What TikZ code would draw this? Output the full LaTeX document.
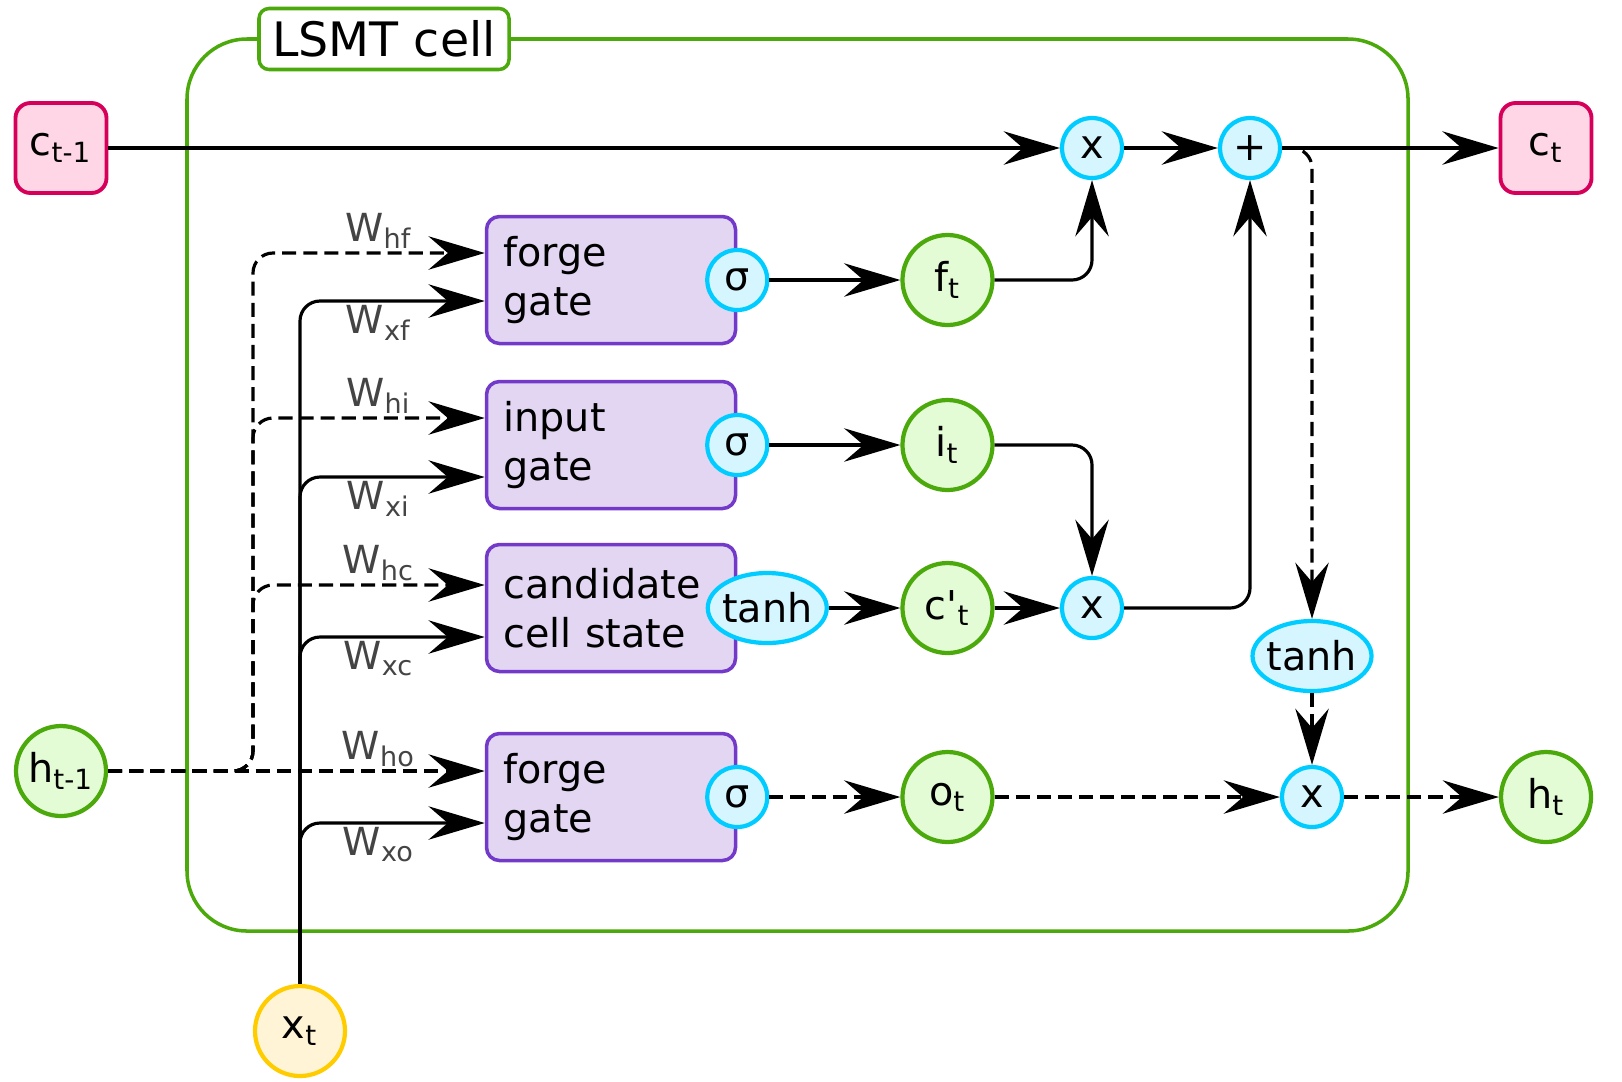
\documentclass[tikz,border=0pt]{standalone}
\usepackage{fontspec}
\setmainfont{DejaVu Sans}
\usepackage{xcolor}
\usetikzlibrary{positioning,calc,arrows.meta,shapes.geometric}

\definecolor{cellgreen}{HTML}{4BA90B}
\definecolor{statefill}{HTML}{E3FCD5}
\definecolor{memline}{HTML}{D6005A}
\definecolor{memfill}{HTML}{FFD6E5}
\definecolor{gateline}{HTML}{7339C9}
\definecolor{gatefill}{HTML}{E3D6F2}
\definecolor{opline}{HTML}{00CCFF}
\definecolor{opfill}{HTML}{D5F5FF}
\definecolor{xline}{HTML}{FFCC00}
\definecolor{xfill}{HTML}{FFF5D6}
\definecolor{wgray}{HTML}{444444}

\tikzset{
  every node/.style={font=\fontsize{11.3}{13.8}\selectfont},
  conn/.style={-{Stealth[length=16pt,width=9.5pt,inset=5.5pt]}, line width=0.9pt},
  dconn/.style={conn, dash pattern=on 4pt off 2pt},
  memory/.style={draw=memline, fill=memfill, line width=1.1pt, rounded corners=1.5mm, minimum width=9.1mm, minimum height=9mm, inner sep=0pt},
  hstate/.style={circle, draw=cellgreen, fill=statefill, line width=1.2pt, minimum size=9mm, inner sep=0pt},
  xin/.style={hstate, draw=xline, fill=xfill},
  gate/.style={draw=gateline, fill=gatefill, line width=1pt, rounded corners=1.3mm, text width=21.5mm, inner xsep=1.7mm, minimum height=12.7mm, align=left},
  op/.style={circle, draw=opline, fill=opfill, line width=1.2pt, minimum size=6mm, inner sep=0pt},
  act/.style={ellipse, draw=opline, fill=opfill, line width=1.2pt, minimum width=11.9mm, minimum height=7mm, inner xsep=-1pt, inner ysep=0pt},
  weight/.style={text=wgray, font=\fontsize{11}{12}\selectfont, inner sep=1pt},
}

\begin{document}
\begin{tikzpicture}[x=0.1mm, y=-0.1mm]
\useasboundingbox (0,0) rectangle (1622,1081);
% cell frame
\draw[cellgreen, line width=1pt, rounded corners=6mm] (187,39) rectangle (1408,931);
\node[draw=cellgreen, fill=white, line width=1pt, rounded corners=1mm, font=\fontsize{13.5}{16}\selectfont, minimum width=25mm, minimum height=6.1mm] (title) at (384,39) {LSMT cell};

% nodes
\node[memory] (c0) at (61,148) {c\textsubscript{t-1}};%
\node[memory] (c1) at (1546,148) {c\textsubscript{t}};%
\node[hstate] (h0) at (61,771) {h\textsubscript{t-1}};%
\node[hstate] (h1) at (1546,797) {h\textsubscript{t}};%
\node[xin] (xt) at (300,1031) {x\textsubscript{t}};%

\node[gate] (fg) at (611,280) {forge\\gate};
\node[gate] (ig) at (611,445) {input\\gate};
\node[gate] (cg) at (611,608) {candidate\\cell state};
\node[gate] (og) at (611,797) {forge\\gate};

\node[op] (fs) at (fg.east) {σ};
\node[op] (is) at (ig.east) {σ};
\node[act] (ctanh) at ($(cg.east)+(30,0)$) {tanh};
\node[op] (os) at (og.east) {σ};

\node[hstate, right=13.1mm of fs] (ft) {f\textsubscript{t}};%
\node[hstate, right=13.1mm of is] (it) {i\textsubscript{t}};%
\node[hstate] (cc) at (ft |- cg) {c\textquotesingle\textsubscript{t}};%
\node[hstate, right=13.1mm of os] (ot) {o\textsubscript{t}};%

\node[op] (mf) at (1092,148) {x};
\node[op] (add) at (1250,148) {+};
\node[op] (mi) at (1092,608) {x};
\node[act] (htanh) at (1312,656) {tanh};
\node[op] (mo) at (1312,797) {x};

% weights
\coordinate (hj) at (253,771);
\draw[dconn, rounded corners=2mm] (h0.east) -- (hj) |- ($(fg.west)+(0,-27)$);
\draw[dconn, rounded corners=2mm] (h0.east) -- (hj) |- ($(ig.west)+(0,-27)$);
\draw[dconn, rounded corners=2mm] (h0.east) -- (hj) |- ($(cg.west)+(0,-23)$);
\draw[dconn] (h0.east) -- ($(og.west)+(0,-26)$);
\draw[conn, rounded corners=2mm] (xt.north) |- ($(fg.west)+(0,21)$);
\draw[conn, rounded corners=2mm] (xt.north) |- ($(ig.west)+(0,32)$);
\draw[conn, rounded corners=2mm] (xt.north) |- ($(cg.west)+(0,29)$);
\draw[conn, rounded corners=2mm] (xt.north) |- ($(og.west)+(0,26)$);

\node[weight, above] (whf) at ($(fg.west)+(-106,-27)$) {W\textsubscript{hf}};
\node[weight, below] (wxf) at ($(fg.west)+(-106,21)$) {W\textsubscript{xf}};
\node[weight, above] (whi) at ($(ig.west)+(-106,-27)$) {W\textsubscript{hi}};
\node[weight, below] (wxi) at ($(ig.west)+(-106,32)$) {W\textsubscript{xi}};
\node[weight, above] (whc) at ($(cg.west)+(-106,-23)$) {W\textsubscript{hc}};
\node[weight, below] (wxc) at ($(cg.west)+(-106,29)$) {W\textsubscript{xc}};
\node[weight, above] (who) at ($(og.west)+(-106,-26)$) {W\textsubscript{ho}};
\node[weight, below] (wxo) at ($(og.west)+(-106,26)$) {W\textsubscript{xo}};

% edges
\draw[conn] (fs) -- (ft);
\draw[conn] (is) -- (it);
\draw[conn] (ctanh) -- (cc);
\draw[dconn] (os) -- (ot);
\draw[conn] (c0) -- (mf);
\draw[conn] (mf) -- (add);
\draw[conn] (add) -- (c1);
\draw[conn, rounded corners=2mm] (ft.east) -| (mf.south);
\draw[conn, rounded corners=2mm] (it.east) -| (mi.north);
\draw[conn] (cc) -- (mi);
\draw[conn, rounded corners=2mm] (mi.east) -| (add.south);
\draw[dconn, rounded corners=2mm] (add.east) -| (htanh.north);
\draw[dconn] (htanh) -- (mo);
\draw[dconn] (ot) -- (mo);
\draw[dconn] (mo) -- (h1);
\end{tikzpicture}
\end{document}
